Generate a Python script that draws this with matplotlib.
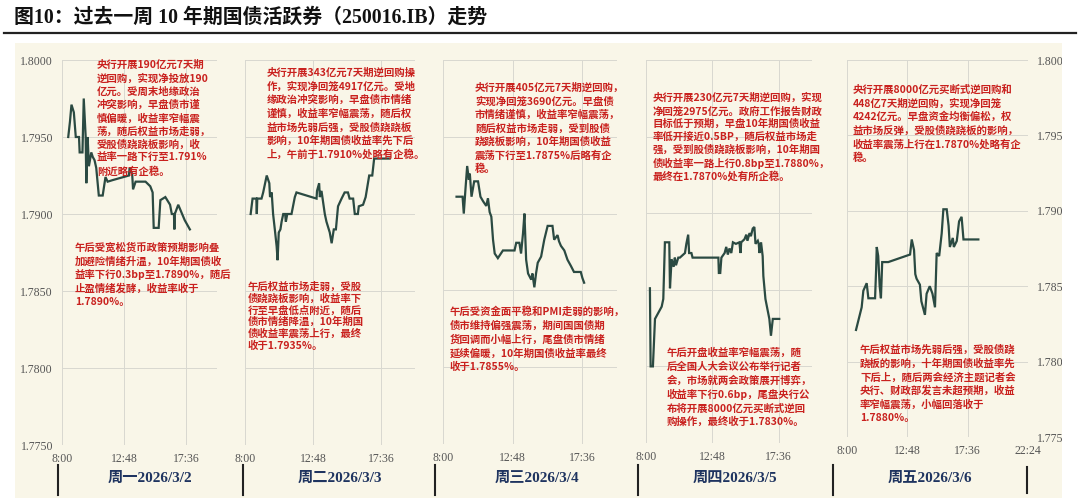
import matplotlib
matplotlib.use('Agg')
import matplotlib.pyplot as plt
from matplotlib.patches import Rectangle
from matplotlib.lines import Line2D

# ---------------- data ----------------
title = "图10：过去一周 10 年期国债活跃券（250016.IB）走势"
day_labels = ["周一2026/3/2", "周二2026/3/3", "周三2026/3/4", "周四2026/3/5", "周五2026/3/6"]
xtick_labels = ["8:00", "12:48", "17:36", "22:24"]
ytick_values = [1.7750, 1.7800, 1.7850, 1.7900, 1.7950, 1.8000]

mon_t = ["08:29", "08:37", "08:44", "08:55", "09:04", "09:19", "09:22", "09:35", "09:41", "09:50",
         "09:53", "09:59", "10:05", "10:16", "10:23", "10:31", "10:39", "10:51", "11:09", "11:22",
         "11:32", "11:55", "13:11", "13:14", "13:26", "13:30", "13:42", "14:28", "14:50", "15:01",
         "15:06", "15:29", "15:37", "16:00", "16:22", "16:30", "16:40", "16:42", "16:44", "17:00",
         "17:12", "17:30", "17:54"]
mon_y = [1.7950, 1.7960, 1.7971, 1.7966, 1.7950, 1.7950, 1.7940, 1.7940, 1.7975, 1.7950,
         1.7920, 1.7950, 1.7931, 1.7940, 1.7937, 1.7935, 1.7930, 1.7912, 1.7912, 1.7924,
         1.7921, 1.7922, 1.7925, 1.7930, 1.7926, 1.7916, 1.7921, 1.7921, 1.7918, 1.7914,
         1.7891, 1.7891, 1.7909, 1.7911, 1.7906, 1.7900, 1.7900, 1.7890, 1.7900, 1.7906,
         1.7902, 1.7896, 1.7890]

tue_t = ["08:24", "08:32", "08:48", "08:50", "08:52", "09:10", "09:17", "09:32", "09:43", "09:46",
         "09:53", "09:59", "10:07", "10:14", "10:18", "10:23", "10:30", "10:35", "10:42", "10:50",
         "10:53", "10:59", "11:17", "11:31", "11:38", "13:03", "13:05", "13:14", "13:17", "13:24",
         "13:38", "13:45", "13:59", "14:07", "14:16", "14:25", "14:34", "14:49", "15:02", "15:16",
         "15:23", "15:38", "15:45", "15:58", "16:02", "16:20", "16:31", "16:46", "16:59", "17:07",
         "18:13"]
tue_y = [1.7900, 1.7910, 1.7910, 1.7900, 1.7910, 1.7910, 1.7914, 1.7925, 1.7920, 1.7911,
         1.7914, 1.7900, 1.7889, 1.7879, 1.7870, 1.7888, 1.7890, 1.7895, 1.7900, 1.7900,
         1.7895, 1.7900, 1.7900, 1.7911, 1.7914, 1.7910, 1.7915, 1.7920, 1.7911, 1.7915,
         1.7900, 1.7895, 1.7888, 1.7881, 1.7890, 1.7890, 1.7905, 1.7910, 1.7914, 1.7914,
         1.7910, 1.7910, 1.7900, 1.7900, 1.7905, 1.7906, 1.7911, 1.7925, 1.7925, 1.7936,
         1.7936]

wed_t = ["08:56", "09:21", "09:26", "09:33", "09:40", "09:47", "09:51", "09:58", "10:09", "10:25",
         "10:35", "10:46", "10:59", "11:06", "11:13", "11:20", "11:27", "11:34", "11:47", "12:08",
         "12:56", "13:03", "13:16", "13:23", "13:31", "13:37", "13:44", "13:52", "14:05", "14:10",
         "14:18", "14:25", "14:32", "14:46", "14:59", "15:13", "15:33", "15:40", "15:54", "16:00",
         "16:08", "16:22", "16:35", "16:49", "17:02", "17:30", "17:37", "17:44"]
wed_y = [1.7911, 1.7911, 1.7900, 1.7916, 1.7931, 1.7922, 1.7926, 1.7911, 1.7921, 1.7921,
         1.7911, 1.7908, 1.7905, 1.7910, 1.7901, 1.7898, 1.7883, 1.7874, 1.7871, 1.7876,
         1.7876, 1.7881, 1.7881, 1.7874, 1.7887, 1.7900, 1.7870, 1.7861, 1.7857, 1.7861,
         1.7852, 1.7861, 1.7868, 1.7872, 1.7883, 1.7892, 1.7892, 1.7883, 1.7886, 1.7882,
         1.7879, 1.7876, 1.7870, 1.7866, 1.7862, 1.7862, 1.7858, 1.7855]

thu_t = ["08:17", "08:20", "08:30", "08:39", "09:08", "09:15", "09:22", "09:41", "09:44", "09:51",
         "10:00", "10:05", "10:10", "10:20", "10:27", "10:49", "10:55", "11:03", "11:07", "11:17",
         "11:22", "13:14", "13:16", "13:22", "13:27", "13:41", "13:48", "13:55", "14:02", "14:10",
         "14:17", "14:30", "14:45", "14:50", "14:53", "15:07", "15:15", "15:20", "15:29", "15:35",
         "15:43", "15:50", "15:55", "16:05", "16:09", "16:12", "16:19", "16:26", "16:29", "16:38",
         "16:55", "17:02", "17:10", "17:38"]
thu_y = [1.7851, 1.7800, 1.7800, 1.7831, 1.7839, 1.7844, 1.7881, 1.7881, 1.7851, 1.7870,
         1.7865, 1.7871, 1.7866, 1.7871, 1.7871, 1.7874, 1.7880, 1.7886, 1.7874, 1.7874,
         1.7871, 1.7871, 1.7861, 1.7861, 1.7871, 1.7874, 1.7878, 1.7873, 1.7877, 1.7874,
         1.7881, 1.7880, 1.7881, 1.7874, 1.7881, 1.7883, 1.7886, 1.7882, 1.7887, 1.7885,
         1.7890, 1.7891, 1.7880, 1.7882, 1.7880, 1.7874, 1.7881, 1.7872, 1.7859, 1.7844,
         1.7831, 1.7820, 1.7831, 1.7831]

fri_t = ["08:43", "09:10", "09:18", "09:34", "09:42", "10:14", "10:19", "10:22", "10:29", "10:36",
         "10:42", "10:48", "11:17", "13:01", "13:09", "13:20", "13:26", "13:32", "13:48", "13:55",
         "14:12", "14:20", "14:35", "14:48", "15:00", "15:08", "15:20", "15:32", "15:40", "15:56",
         "16:05", "16:11", "16:25", "16:30", "16:44", "16:55", "17:07", "17:16", "18:27"]
fri_y = [1.7821, 1.7836, 1.7847, 1.7852, 1.7842, 1.7842, 1.7861, 1.7876, 1.7870, 1.7850,
         1.7842, 1.7866, 1.7866, 1.7871, 1.7881, 1.7874, 1.7858, 1.7855, 1.7851, 1.7840,
         1.7831, 1.7845, 1.7850, 1.7845, 1.7836, 1.7872, 1.7870, 1.7885, 1.7901, 1.7901,
         1.7890, 1.7876, 1.7882, 1.7876, 1.7880, 1.7893, 1.7896, 1.7881, 1.7881]

notes_top = [
    ["央行开展190亿元7天期", "逆回购，实现净投放190", "亿元。受周末地缘政治", "冲突影响，早盘债市谨",
     "慎偏暖，收益率窄幅震", "荡，随后权益市场走弱，", "受股债跷跷板影响，收", "益率一路下行至1.791%",
     "附近略有企稳。"],
    ["央行开展343亿元7天期逆回购操", "作，实现净回笼4917亿元。受地", "缘政治冲突影响，早盘债市情绪",
     "谨慎，收益率窄幅震荡，随后权", "益市场先弱后强，受股债跷跷板", "影响，10年期国债收益率先下后",
     "上，午前于1.7910%处略有企稳。"],
    ["央行开展405亿元7天期逆回购，", "实现净回笼3690亿元。早盘债", "市情绪谨慎，收益率窄幅震荡，",
     "随后权益市场走弱，受到股债", "跷跷板影响，10年期国债收益", "震荡下行至1.7875%后略有企", "稳。"],
    ["央行开展230亿元7天期逆回购，实现", "净回笼2975亿元。政府工作报告财政", "目标低于预期，早盘10年期国债收益",
     "率低开接近0.5BP，随后权益市场走", "强，受到股债跷跷板影响，10年期国", "债收益率一路上行0.8bp至1.7880%，",
     "最终在1.7870%处有所企稳。"],
    ["央行开展8000亿元买断式逆回购和", "448亿7天期逆回购，实现净回笼", "4242亿元。早盘资金均衡偏松，权",
     "益市场反弹，受股债跷跷板的影响，", "收益率震荡上行在1.7870%处略有企", "稳。"],
]
notes_bottom = [
    ["午后受宽松货币政策预期影响叠", "加避险情绪升温，10年期国债收", "益率下行0.3bp至1.7890%，随后",
     "止盈情绪发酵，收益率收于", "1.7890%。"],
    ["午后权益市场走弱，受股", "债跷跷板影响，收益率下", "行至早盘低点附近，随后", "债市情绪降温，10年期国",
     "债收益率震荡上行，最终", "收于1.7935%。"],
    ["午后受资金面平稳和PMI走弱的影响，", "债市维持偏强震荡，期间国国债期", "货回调而小幅上行，尾盘债市情绪",
     "延续偏暖，10年期国债收益率最终", "收于1.7855%。"],
    ["午后开盘收益率窄幅震荡，随", "后全国人大会议公布举行记者", "会，市场就两会政策展开博弈，",
     "收益率下行0.6bp，尾盘央行公", "布将开展8000亿元买断式逆回", "购操作，最终收于1.7830%。"],
    ["午后权益市场先弱后强，受股债跷", "跷板的影响，十年期国债收益率先", "下后上，随后两会经济主题记者会",
     "央行、财政部发言未超预期，收益", "率窄幅震荡，小幅回落收于", "1.7880%。"],
]

series_t = [mon_t, tue_t, wed_t, thu_t, fri_t]
series_y = [mon_y, tue_y, wed_y, thu_y, fri_y]

# ---------------- layout / style ----------------
W, H = 1080, 498
fig = plt.figure(figsize=(W / 100, H / 100), dpi=100)
fig.patch.set_facecolor('white')

def fx(px):
    return px / W

def fy(py):
    return 1 - py / H

def hours(ts):
    out = []
    for s in ts:
        h, m = s.split(':')
        out.append(int(h) + int(m) / 60)
    return out

SERIF_CJK = ['Liberation Serif', 'Noto Sans CJK SC']
CJK = ['Noto Sans CJK SC', 'DejaVu Sans']
CREAM = '#f9f6e8'
LINE = '#2b4a42'
RED = '#c9211e'
NAVY = '#1f3460'
GRID = '#d8d8d0'
TICK = '#555555'

# cream background
fig.patches.append(Rectangle((fx(15), 0), fx(1062) - fx(15), fy(43), transform=fig.transFigure,
                             facecolor=CREAM, edgecolor='none', zorder=-5))
# white cover at right (clips the right axis labels like the reference)
fig.patches.append(Rectangle((fx(1062), 0), 1 - fx(1062), fy(40), transform=fig.transFigure,
                             facecolor='white', edgecolor='none', zorder=20))
# title and underline
fig.text(fx(14), fy(18), title, fontsize=14.3, fontweight='bold', family=SERIF_CJK,
         color='#111111', va='center', ha='left')
fig.lines.append(Line2D([fx(4), fx(1076)], [fy(33), fy(33)], transform=fig.transFigure,
                        color='#222222', lw=1.6, zorder=21))

panels = [(62, 217, 60, 445), (245, 415, 60, 445), (443, 617, 60, 444),
          (646, 812, 60, 443), (847, 1028, 60, 437)]
top_pos = [(97, 65, 13.3), (267, 73, 13.6), (475, 88, 13.5), (653, 98, 13.0), (853, 90, 13.5)]
bot_pos = [(75, 248, 13.5), (248, 287, 11.7), (450, 312, 13.7), (667, 353, 13.8), (860, 350, 13.6)]
day_x = [150, 340, 537, 735, 930]
sep_x = [58, 243, 435, 638, 833, 1027]

for i, (l, r, t, b) in enumerate(panels):
    ax = fig.add_axes([fx(l), fy(b), fx(r) - fx(l), fy(t) - fy(b)])
    ax.set_facecolor('none')
    for sp in ax.spines.values():
        sp.set_visible(False)
    last = (i == 4)
    xmax = 22.4 if last else 20.0
    ax.set_xlim(8.0, xmax)
    ax.set_ylim(1.7750, 1.8000)
    xt = [8.0, 12.8, 17.6, 22.4] if last else [8.0, 12.8, 17.6]
    ax.set_xticks(xt)
    ax.set_xticklabels(xtick_labels[:len(xt)], family='Liberation Serif', fontsize=8.5, color=TICK)
    ax.set_yticks(ytick_values)
    ax.set_yticklabels(['%.4f' % v for v in ytick_values], family='Liberation Serif',
                       fontsize=8.5, color=TICK)
    ax.tick_params(axis='x', length=0, pad=5.5)
    ax.tick_params(axis='y', length=0, pad=6.5)
    if i == 0:
        ax.tick_params(axis='y', labelleft=True, labelright=False)
    elif last:
        ax.tick_params(axis='y', labelleft=False, labelright=True)
    else:
        ax.tick_params(axis='y', labelleft=False, labelright=False)
    ax.grid(True, color=GRID, lw=0.7)
    ax.set_axisbelow(True)
    ax.plot(hours(series_t[i]), series_y[i], color=LINE, lw=1.6, solid_joinstyle='miter')

    # annotations
    x0, y0, sp = top_pos[i]
    for k, line in enumerate(notes_top[i]):
        fig.text(fx(x0), fy(y0 + k * sp), line, fontsize=7.5, fontweight='bold', family=CJK,
                 color=RED, va='center', ha='left')
    x0, y0, sp = bot_pos[i]
    for k, line in enumerate(notes_bottom[i]):
        fig.text(fx(x0), fy(y0 + k * sp), line, fontsize=7.5, fontweight='bold', family=CJK,
                 color=RED, va='center', ha='left')

    fig.text(fx(day_x[i]), fy(478), day_labels[i], fontsize=11, fontweight='bold',
             family=SERIF_CJK, color=NAVY, va='center', ha='center')

for k, x in enumerate(sep_x):
    y1, y2 = (467, 493) if k == len(sep_x) - 1 else (465, 495)
    fig.lines.append(Line2D([fx(x), fx(x)], [fy(y1), fy(y2)], transform=fig.transFigure,
                            color='#222222', lw=1.5))

fig.savefig('out.png', dpi=100)
